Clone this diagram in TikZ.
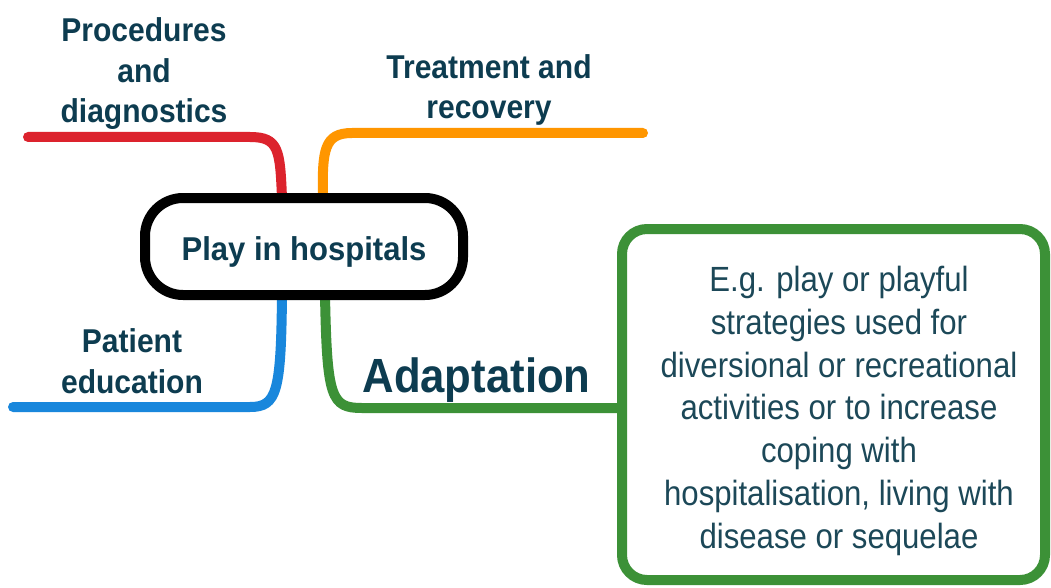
\documentclass[tikz,border=0pt]{standalone}
\usepackage{fontspec}
\setmainfont{Liberation Sans}
\newfontfamily\hdfont{Liberation Sans}[FakeStretch=0.91]
\newfontfamily\hubfont{Liberation Sans}[FakeStretch=0.94]
\newfontfamily\bxfont{Liberation Sans}[FakeStretch=0.89]
\definecolor{txt}{RGB}{13,60,80}
\definecolor{bxtxt}{RGB}{28,72,88}
\definecolor{cred}{RGB}{220,35,45}
\definecolor{corange}{RGB}{255,150,0}
\definecolor{cblue}{RGB}{25,135,220}
\definecolor{cgreen}{RGB}{60,145,55}
\tikzset{
  conn/.style={line width=10pt, line cap=round},
  hd/.style={font=\hdfont\bfseries\fontsize{33}{40.5}\selectfont, text=txt, align=center, inner sep=0pt, anchor=base},
  bigtxt/.style={font=\hdfont\bfseries\fontsize{48}{56}\selectfont, text=txt, inner sep=0pt, anchor=base},
  hub/.style={draw=black, line width=10pt, fill=white, rounded corners=38pt, minimum width=318pt, minimum height=97pt, inner sep=0pt, text height=27pt, text depth=0pt, font=\hubfont\bfseries\fontsize{33}{41}\selectfont, text=txt},
  gbox/.style={draw=cgreen, line width=10pt, rounded corners=25pt, minimum width=423pt, minimum height=351pt, inner sep=0pt},
  bxtext/.style={font=\bxfont\fontsize{35}{42.7}\selectfont, text=bxtxt, align=center, inner sep=0pt, anchor=base}
}
\begin{document}
\begin{tikzpicture}[x=1pt,y=-1pt]
\useasboundingbox[fill=white] (0,0) rectangle (1051,588);

% nodes (positions; anchor=base is the last line's baseline)
\node[gbox] (box) at (833.5,404.5) {};
\node[bxtext] (boxtext) at (839,548) {E.g. play or playful\\strategies used for\\diversional or recreational\\activities or to increase\\coping with\\hospitalisation, living with\\disease or sequelae};

\coordinate (rEnd) at (28,137);
\coordinate (oEnd) at (643,133);
\coordinate (bEnd) at (13,407);

% connectors
\draw[conn, cred] (282,198) .. controls (280,150) and (279,137) .. (250,137) -- (rEnd);
\draw[conn, corange] (323,198) .. controls (322,150) and (324,133) .. (352,133) -- (oEnd);
\draw[conn, cblue] (282,295) .. controls (281,392) and (277,407) .. (250,407) -- (bEnd);
\draw[conn, cgreen] (325,295) .. controls (327,398) and (331,408) .. (362,408) -- ([yshift=-3.5pt]box.west);

\node[hub] (hub) at (304,246.5) {Play in hospitals};

\node[hd] (proc) at (144,123) {Procedures\\and\\diagnostics};
\node[hd] (treat) at (489,119) {Treatment and\\recovery};
\node[hd] (pat) at (132,393) {Patient\\education};
\node[bigtxt] (adapt) at (476.5,392) {Adaptation};
\end{tikzpicture}
\end{document}
